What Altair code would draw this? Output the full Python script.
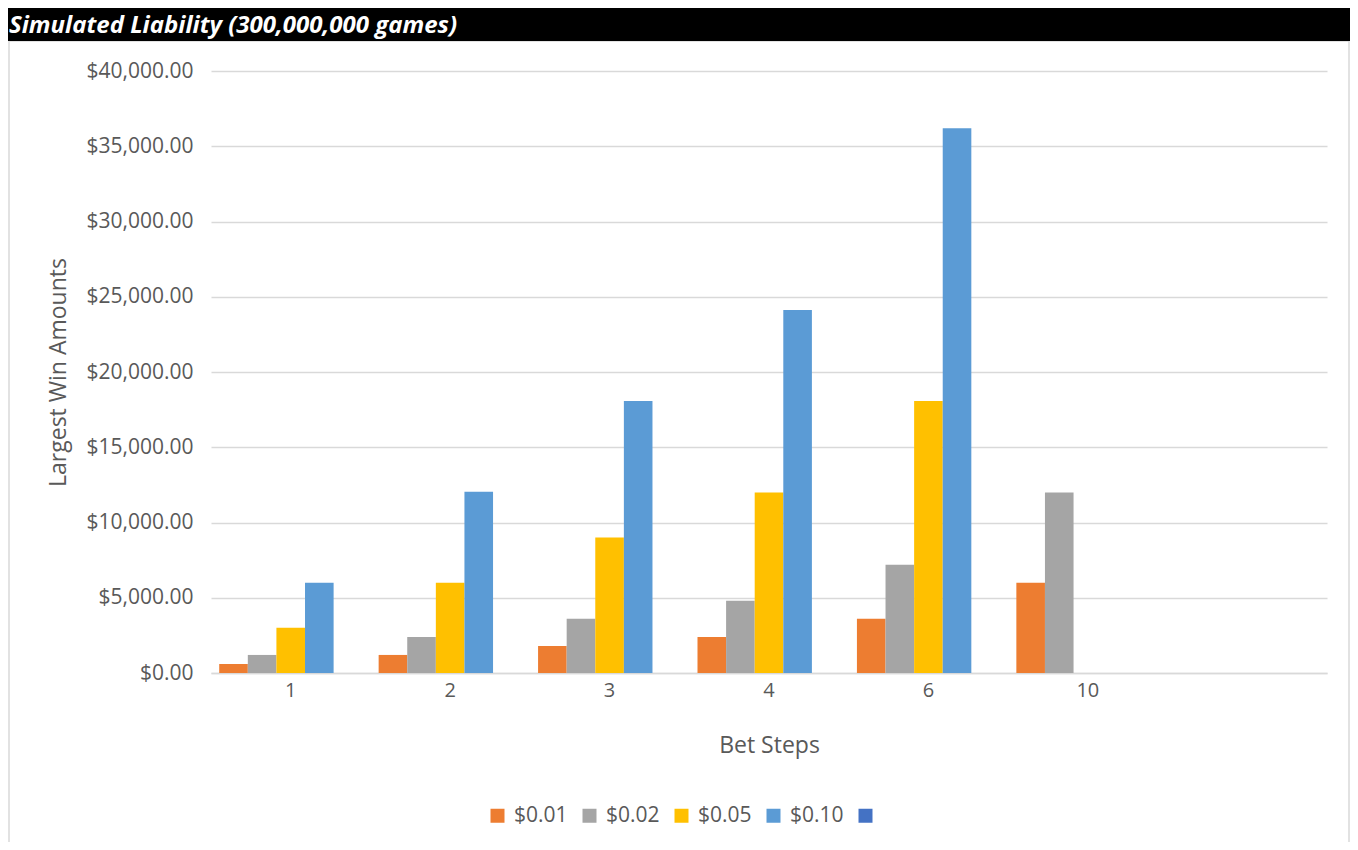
import altair as alt
import pandas as pd

# ---- data ----
categories = ["1", "2", "3", "4", "6", "10"]
extra_category = [" "]          # empty slot at the right end of the axis
series_names = ["$0.01", "$0.02", "$0.05", "$0.10", " "]
series_colors = ["#ED7D31", "#A5A5A5", "#FFC000", "#5B9BD5", "#4472C4"]

s_001 = [600, 1200, 1800, 2400, 3600, 6000]
s_002 = [1200, 2400, 3600, 4800, 7200, 12000]
s_005 = [3000, 6000, 9000, 12000, 18080, None]
s_010 = [6000, 12050, 18080, 24120, 36200, None]

y_ticks = [0, 5000, 10000, 15000, 20000, 25000, 30000, 35000, 40000]
title_text = "Simulated Liability (300,000,000 games)"

rows = []
for name, vals in zip(series_names[:4], [s_001, s_002, s_005, s_010]):
    for c, v in zip(categories, vals):
        if v is not None:
            rows.append({"step": c, "series": name, "value": v})
df = pd.DataFrame(rows)

FONT = "Open Sans"
TXT = "#595959"
GRID = "#D9D9D9"

W, H = 1116, 602
PAD_L, PAD_T, PAD_R, PAD_B = 203, 63, 23, 169

bars = alt.Chart(df).mark_bar().encode(
    x=alt.X("step:N",
            scale=alt.Scale(domain=categories + extra_category,
                            paddingInner=0.103, paddingOuter=0.0515),
            sort=categories + extra_category,
            axis=alt.Axis(title="Bet Steps", labelAngle=0, ticks=False,
                          domainColor=GRID, domainWidth=1.5,
                          labelFont=FONT, labelFontSize=20, labelColor=TXT,
                          labelPadding=7,
                          titleFont=FONT, titleFontSize=23, titleColor=TXT,
                          titleFontWeight="normal", titleY=72,
                          titleBaseline="middle")),
    xOffset=alt.XOffset("series:N",
                        scale=alt.Scale(domain=series_names,
                                        paddingInner=0, paddingOuter=0)),
    y=alt.Y("value:Q",
            scale=alt.Scale(domain=[0, 40000], nice=False),
            axis=alt.Axis(title="Largest Win Amounts", values=y_ticks,
                          format="$,.2f", ticks=False, domain=False,
                          gridColor=GRID, gridWidth=1.5,
                          labelFont=FONT, labelFontSize=21, labelColor=TXT,
                          labelPadding=18,
                          titleFont=FONT, titleFontSize=23, titleColor=TXT,
                          titleFontWeight="normal", titleX=-153, titleY=301,
                          titleAngle=-90, titleAlign="center",
                          titleBaseline="middle")),
    color=alt.Color("series:N",
                    scale=alt.Scale(domain=series_names, range=series_colors),
                    legend=alt.Legend(title=None, orient="none",
                                      direction="horizontal",
                                      legendX=276, legendY=734,
                                      symbolType="square", symbolSize=196,
                                      symbolStrokeWidth=0,
                                      labelFont=FONT, labelFontSize=21,
                                      labelColor=TXT, labelOffset=6,
                                      columnPadding=11, padding=0)),
)

deco = pd.DataFrame({"a": [0]})

border = alt.Chart(deco).mark_rect(fill="transparent", stroke=GRID, strokeWidth=1.5).encode(
    x=alt.value(-PAD_L + 1), x2=alt.value(W + PAD_R - 1),
    y=alt.value(-30), y2=alt.value(H + PAD_B + 5),
)

title_bar = alt.Chart(deco).mark_rect(fill="black").encode(
    x=alt.value(-PAD_L), x2=alt.value(W + PAD_R),
    y=alt.value(-PAD_T), y2=alt.value(-30),
)

title = alt.Chart(deco).mark_text(
    text=title_text, align="left", baseline="alphabetic",
    font=FONT, fontSize=24, fontWeight="bold", fontStyle="italic",
    color="white",
).encode(x=alt.value(-PAD_L + 1), y=alt.value(-38))

chart = alt.layer(border, bars, title_bar, title).properties(
    width=W, height=H,
    padding={"left": PAD_L, "top": PAD_T, "right": PAD_R, "bottom": PAD_B},
    autosize=alt.AutoSizeParams(type="none"),
    background="white",
).configure_view(stroke=None)

chart.save("out.html", embed_options={"renderer": "svg", "actions": False})
